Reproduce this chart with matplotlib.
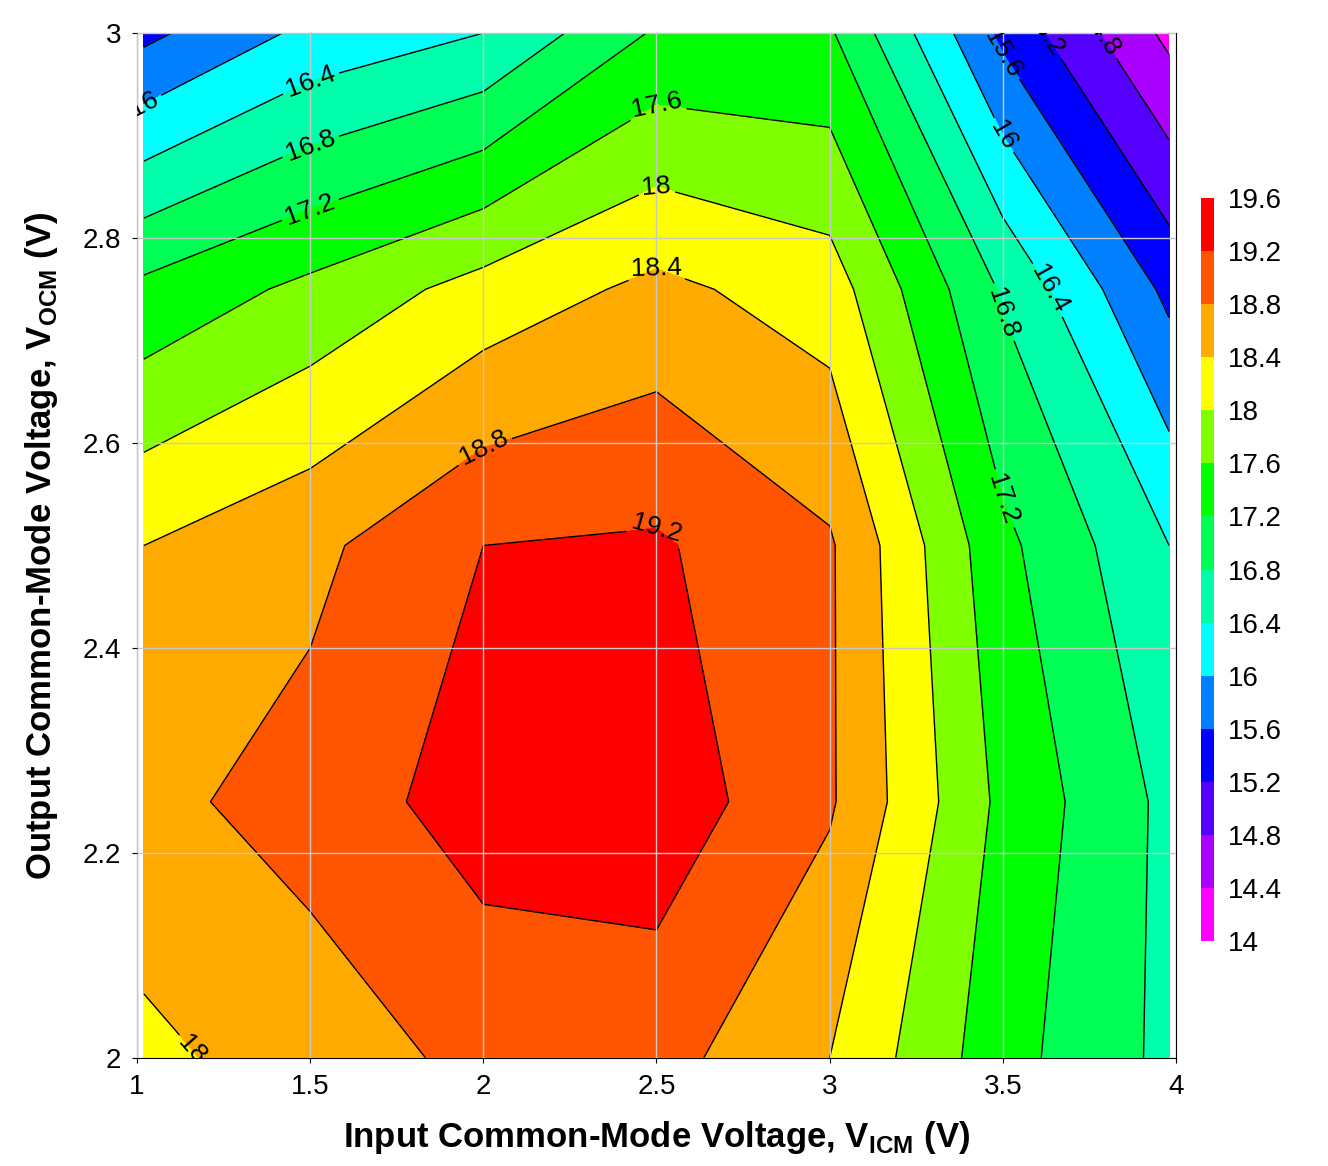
import numpy as np
import matplotlib
matplotlib.use("Agg")
import matplotlib.pyplot as plt
from matplotlib.colors import ListedColormap, BoundaryNorm

x_vicm = [1.02, 1.5, 2.0, 2.5, 3.0, 3.5, 3.98]
y_vocm = [2.0, 2.25, 2.5, 2.75, 3.0]
z_vals = [
    [18.3, 18.6, 18.9, 18.95, 18.4, 17.35, 16.7],
    [18.7, 18.95, 19.4, 19.45, 18.85, 17.5, 16.7],
    [18.4, 18.7, 19.2, 19.25, 18.85, 17.3, 16.4],
    [17.3, 17.7, 18.15, 18.5, 18.2, 16.75, 15.5],
    [15.5, 16.1, 16.4, 17.25, 17.25, 15.5, 14.3],
]
levels = [14 + 0.4 * i for i in range(15)]
colors = ['#FF00FF', '#AA00FF', '#5500FF', '#0000FF', '#0080FF', '#00FFFF', '#00FFAA',
          '#00FF55', '#00FF00', '#80FF00', '#FFFF00', '#FFAA00', '#FF5500', '#FF0000']

plt.rcParams['font.family'] = ['Liberation Sans', 'DejaVu Sans']
fig = plt.figure(figsize=(13.28, 11.66), dpi=100)
ax = fig.add_axes([137/1328, 1-1058/1166, (1176-137)/1328, (1058-33)/1166])
X, Y = np.meshgrid(x_vicm, y_vocm)
Z = np.array(z_vals)
cmap = ListedColormap(colors)
norm = BoundaryNorm(levels, cmap.N)
cf = ax.contourf(X, Y, Z, levels=levels, cmap=cmap, norm=norm)
cs = ax.contour(X, Y, Z, levels=levels, colors='black', linewidths=1)
ax.clabel(cs, fmt='%g', fontsize=19, inline=True)
ax.set_xlim(1, 4)
ax.set_ylim(2, 3)
ax.set_xticks([1, 1.5, 2, 2.5, 3, 3.5, 4])
ax.set_xticklabels(['1', '1.5', '2', '2.5', '3', '3.5', '4'])
ax.set_yticks([2, 2.2, 2.4, 2.6, 2.8, 3])
ax.set_yticklabels(['2', '2.2', '2.4', '2.6', '2.8', '3'])
ax.grid(True, color='#C8C8C8', linewidth=1)
ax.set_axisbelow(False)
ax.tick_params(labelsize=20, pad=8)
ax.set_xlabel('Input Common-Mode Voltage, V$_{\\mathregular{ICM}}$ (V)', fontsize=25, fontweight='bold', labelpad=14)
ax.set_ylabel('Output Common-Mode Voltage, V$_{\\mathregular{OCM}}$ (V)', fontsize=25, fontweight='bold', labelpad=16)
cax = fig.add_axes([1201/1328, 1-941/1166, 13/1328, (941-198)/1166])
cb = fig.colorbar(cf, cax=cax, ticks=levels)
cb.ax.set_yticklabels(['%g' % l for l in levels])
cb.ax.tick_params(labelsize=20, length=0, pad=10)
cb.outline.set_visible(False)
fig.savefig('out.png', dpi=100)
